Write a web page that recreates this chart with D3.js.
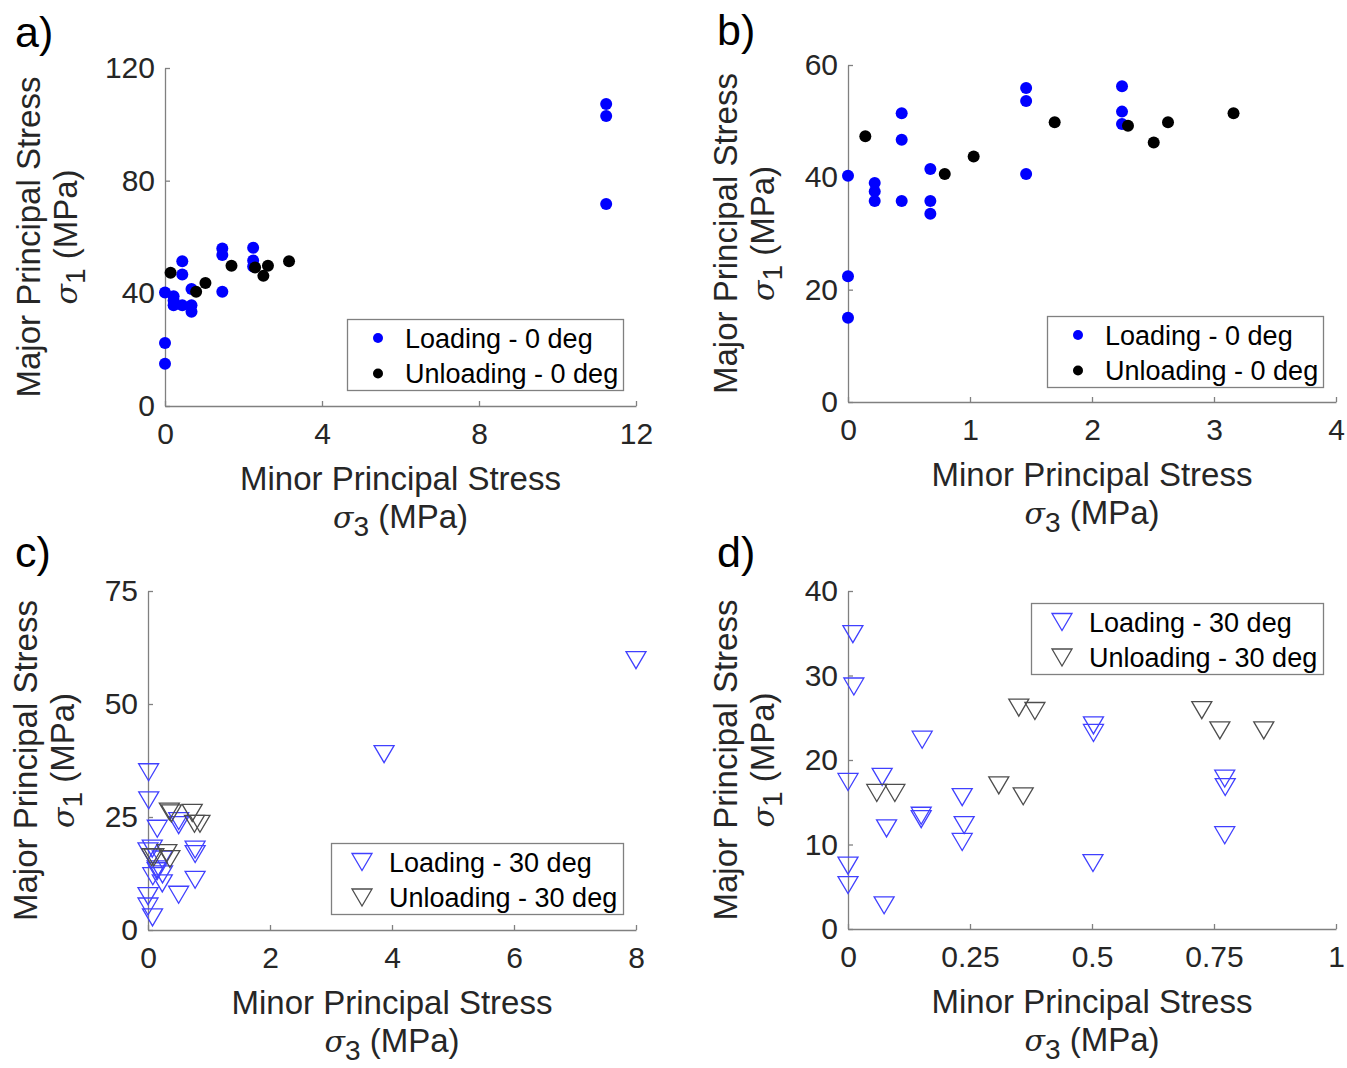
<!DOCTYPE html>
<html>
<head>
<meta charset="utf-8">
<script src="https://cdn.jsdelivr.net/npm/d3@7"></script>
<style>
  body { margin: 0; background: #fff; }
  svg { display: block; font-family: 'Liberation Sans', Arial, sans-serif; }
  .axis path, .axis line { stroke: #808080; stroke-width: 1.3; }
  .axis text { fill: #262626; font-size: 30px; font-family: 'Liberation Sans', Arial, sans-serif; }
</style>
</head>
<body>
<svg id="chart" width="1347" height="1068"></svg>
<script>
'use strict';

// 0 deg tests (sigma3, sigma1 in MPa)
var load0X = [0, 0, 0, 0.219, 0.219, 0.219, 0.44, 0.44, 0.44, 0.675, 0.675, 0.675, 1.46, 1.46, 1.46, 2.246, 2.246, 2.246, 11.24, 11.24, 11.24];
var load0Y = [40.3, 22.4, 15.0, 39.0, 37.5, 35.8, 51.4, 46.7, 35.8, 41.5, 35.8, 33.5, 55.9, 53.6, 40.6, 56.2, 51.7, 49.5, 107.2, 103.0, 71.7];
var unload0X = [0.142, 0.793, 1.03, 1.694, 2.295, 2.506, 2.623, 3.16];
var unload0Y = [47.3, 40.6, 43.7, 49.8, 49.2, 46.2, 49.8, 51.4];

// 30 deg tests
var load30X = [0.010, 0.012, 0, 0, 0, 0.152, 0.070, 0.079, 0.074, 0.150, 0.150, 0.234, 0.238, 0.234, 0.503, 0.503, 0.502, 0.772, 0.773, 0.772, 3.87, 8.0];
var load30Y = [34.9, 28.7, 17.4, 7.5, 5.2, 22.4, 18.0, 11.9, 2.8, 13.4, 13.0, 15.6, 12.3, 10.3, 24.1, 23.2, 7.8, 17.8, 16.8, 11.1, 38.9, 59.7];
var unload30X = [0.059, 0.096, 0.350, 0.383, 0.309, 0.359, 0.725, 0.762, 0.852];
var unload30Y = [16.1, 16.1, 26.2, 25.8, 17.0, 15.7, 25.9, 23.5, 23.5];

// tick values
var ticksAX = [0, 4, 8, 12], ticksAY = [0, 40, 80, 120];
var ticksBX = [0, 1, 2, 3, 4], ticksBY = [0, 20, 40, 60];
var ticksCX = [0, 2, 4, 6, 8], ticksCY = [0, 25, 50, 75];
var ticksDX = [0, 0.25, 0.5, 0.75, 1], ticksDY = [0, 10, 20, 30, 40];

var legend0 = ['Loading - 0 deg', 'Unloading - 0 deg'];
var legend30 = ['Loading - 30 deg', 'Unloading - 30 deg'];

function zip(xs, ys)
{
  return xs.map(function(x, i) { return {x: x, y: ys[i]}; });
}

var dots = [
  {data: zip(load0X, load0Y), color: '#0000ff'},
  {data: zip(unload0X, unload0Y), color: '#000000'}
];
var tris = [
  {data: zip(load30X, load30Y), color: '#4040ff'},
  {data: zip(unload30X, unload30Y), color: '#4d4d4d'}
];

var panels = [
  {tag: 'a)', tagX: 15, tagY: 47, left: 165, right: 636, top: 68, bottom: 406,
    xDom: [0, 12], yDom: [0, 120], xTicks: ticksAX, yTicks: ticksAY, labOff: 125,
    series: dots, marker: 'dot', legend: legend0, legTop: 319, legW: 276},
  {tag: 'b)', tagX: 717, tagY: 45, left: 848, right: 1336, top: 65, bottom: 402,
    xDom: [0, 4], yDom: [0, 60], xTicks: ticksBX, yTicks: ticksBY, labOff: 111,
    series: dots, marker: 'dot', legend: legend0, legTop: 316, legW: 276},
  {tag: 'c)', tagX: 15, tagY: 567, left: 148, right: 636, top: 591, bottom: 930,
    xDom: [0, 8], yDom: [0, 75], xTicks: ticksCX, yTicks: ticksCY, labOff: 111,
    series: tris, marker: 'tri', legend: legend30, legTop: 843, legW: 292},
  {tag: 'd)', tagX: 717, tagY: 567, left: 848, right: 1336, top: 591, bottom: 929,
    xDom: [0, 1], yDom: [0, 40], xTicks: ticksDX, yTicks: ticksDY, labOff: 111,
    series: tris, marker: 'tri', legend: legend30, legTop: 603, legW: 292}
];

var svg = d3.select('#chart');

function triPath(cx, cy, w, h)
{
  return 'M' + (cx - w / 2) + ',' + (cy - h / 2)
    + 'L' + (cx + w / 2) + ',' + (cy - h / 2)
    + 'L' + cx + ',' + (cy + h / 2) + 'Z';
}

function addMarker(g, type, color, x, y, legend)
{
  if (type === 'dot')
  {
    g.append('circle')
      .attr('cx', x)
      .attr('cy', y)
      .attr('r', legend ? 5 : 6)
      .attr('fill', color);
  }
  else
  {
    g.append('path')
      .attr('d', triPath(x, y, 20, 17))
      .attr('fill', 'none')
      .attr('stroke', color)
      .attr('stroke-width', 1.3);
  }
}

function sigmaLabel(sub, x, y, rotate)
{
  var t = svg.append('text')
    .attr('text-anchor', 'middle')
    .attr('font-size', 33)
    .attr('fill', '#262626')
    .attr('transform', 'translate(' + x + ',' + y + ')' + (rotate ? ' rotate(-90)' : ''));

  t.append('tspan').attr('font-style', 'italic').attr('font-family', 'DejaVu Serif').attr('font-size', 30).text('σ');
  t.append('tspan').attr('dy', 8).attr('font-size', 28).text(sub);
  t.append('tspan').attr('dy', -8).text(' (MPa)');
}

panels.forEach(function(p)
{
  var x = d3.scaleLinear().domain(p.xDom).range([p.left, p.right]);
  var y = d3.scaleLinear().domain(p.yDom).range([p.bottom, p.top]);

  svg.append('g')
    .attr('class', 'axis')
    .attr('transform', 'translate(0,' + p.bottom + ')')
    .call(d3.axisBottom(x).tickValues(p.xTicks).tickFormat(String)
      .tickSizeInner(-5).tickSizeOuter(0).tickPadding(17));

  svg.append('g')
    .attr('class', 'axis')
    .attr('transform', 'translate(' + p.left + ',0)')
    .call(d3.axisLeft(y).tickValues(p.yTicks).tickFormat(String)
      .tickSizeInner(-5).tickSizeOuter(0).tickPadding(10));

  var cx = (p.left + p.right) / 2;
  var cy = (p.top + p.bottom) / 2;

  svg.append('text')
    .attr('x', p.tagX)
    .attr('y', p.tagY)
    .attr('font-size', 43)
    .attr('fill', '#000')
    .text(p.tag);

  svg.append('text')
    .attr('x', cx)
    .attr('y', p.bottom + 84)
    .attr('text-anchor', 'middle')
    .attr('font-size', 33)
    .attr('fill', '#262626')
    .text('Minor Principal Stress');
  sigmaLabel('3', cx, p.bottom + 122, false);

  var lx = p.left - p.labOff;
  svg.append('text')
    .attr('transform', 'translate(' + lx + ',' + cy + ') rotate(-90)')
    .attr('text-anchor', 'middle')
    .attr('font-size', 33)
    .attr('fill', '#262626')
    .text('Major Principal Stress');
  sigmaLabel('1', lx + 37, cy, true);

  var marks = svg.append('g');
  p.series.forEach(function(s)
  {
    s.data
      .filter(function(d) { return d.x <= p.xDom[1] && d.y <= p.yDom[1]; })
      .forEach(function(d) { addMarker(marks, p.marker, s.color, x(d.x), y(d.y), false); });
  });

  var legX = p.right - 13 - p.legW;
  var leg = svg.append('g').attr('transform', 'translate(' + legX + ',' + p.legTop + ')');

  leg.append('rect')
    .attr('x', 0.5)
    .attr('y', 0.5)
    .attr('width', p.legW)
    .attr('height', 71)
    .attr('fill', '#fff')
    .attr('stroke', '#808080')
    .attr('stroke-width', 1.3);

  p.legend.forEach(function(label, i)
  {
    var ry = 19 + i * 35.5;
    addMarker(leg, p.marker, p.series[i].color, 31, ry, true);
    leg.append('text')
      .attr('x', 58)
      .attr('y', ry + 9.5)
      .attr('font-size', 27)
      .attr('fill', '#000')
      .text(label);
  });
});
</script>
</body>
</html>
